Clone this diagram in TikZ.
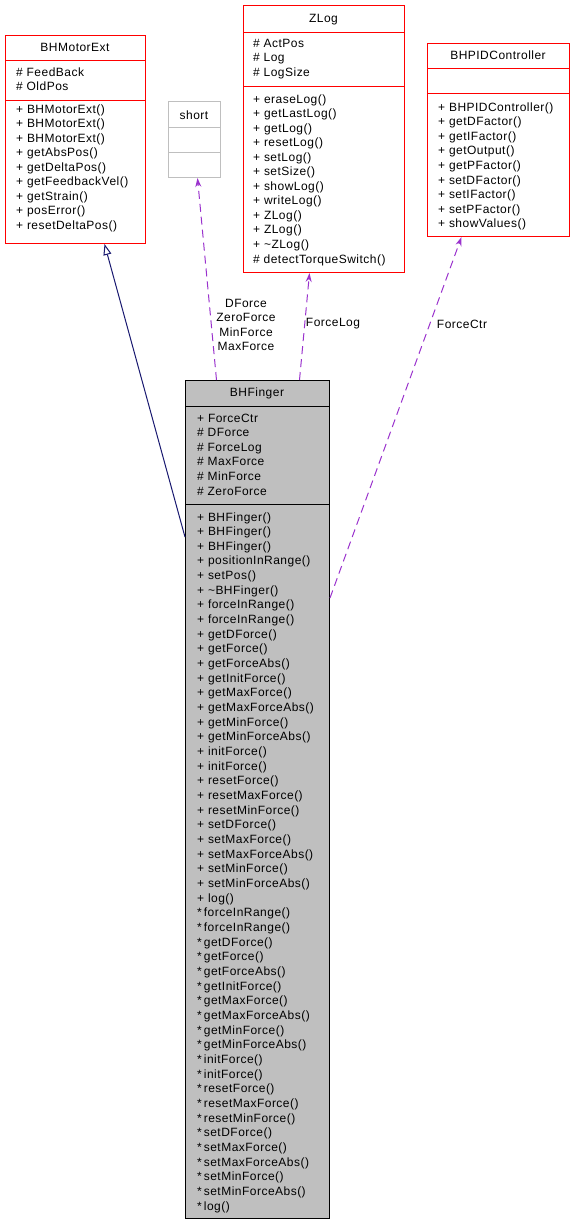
\documentclass[tikz,border=0pt]{standalone}
\usepackage{fontspec}
\setmainfont{Liberation Sans}[LetterSpace=4.0]
\usetikzlibrary{arrows.meta,calc}
\definecolor{umlred}{HTML}{FF0000}
\definecolor{umlgray}{HTML}{BFBFBF}
\definecolor{umlfill}{HTML}{BFBFBF}
\definecolor{gennavy}{HTML}{191970}
\definecolor{deppurple}{HTML}{9A32CD}
\begin{document}
\begin{tikzpicture}[x=1pt,y=-1pt,
  box/.style={draw, line width=1pt, inner sep=0pt, anchor=north west},
  txt/.style={anchor=base west, inner sep=0pt, font=\fontsize{12}{14.5}\selectfont},
  ttl/.style={anchor=base, inner sep=0pt, font=\fontsize{12}{14.5}\selectfont},
  lbl/.style={anchor=center, inner sep=0pt, align=center, font=\fontsize{12}{14.5}\selectfont},
  dep/.style={draw=deppurple, line width=1pt, dash pattern=on 8pt off 5pt, -{Stealth[length=9pt,width=6pt]}},
  gen/.style={draw=gennavy, line width=1pt, -{Triangle[open,length=11pt,width=8pt,fill=white]}}]
\useasboundingbox (0,0) rectangle (573,1224);

% BHMotorExt
\node[box, draw=umlred, minimum width=140pt, minimum height=208pt] (motor) at (5,35) {};
\draw[umlred, line width=1pt] (5,60) -- (145,60) (5,100) -- (145,100);
\node[ttl] (motort) at (75,51) {BHMotorExt};
\foreach \t [count=\i from 0] in {\# FeedBack, \# OldPos}
  \node[txt] (motora\i) at (16,76+\i*14.5) {\t};
\foreach \t [count=\i from 0] in {+ BHMotorExt(), + BHMotorExt(), + BHMotorExt(), + getAbsPos(), + getDeltaPos(), + getFeedbackVel(), + getStrain(), + posError(), + resetDeltaPos()}
  \node[txt] (motorm\i) at (16,113+\i*14.5) {\t};

% short
\node[box, draw=umlgray, minimum width=52pt, minimum height=76pt] (short) at (168,101) {};
\draw[umlgray, line width=1pt] (168,127) -- (220,127) (168,152) -- (220,152);
\node[ttl] (shortt) at (194,119) {short};

% ZLog
\node[box, draw=umlred, minimum width=161pt, minimum height=267pt] (zlog) at (243,5) {};
\draw[umlred, line width=1pt] (243,32) -- (404,32) (243,86) -- (404,86);
\node[ttl] (zlogt) at (323.5,22) {ZLog};
\foreach \t [count=\i from 0] in {\# ActPos, \# Log, \# LogSize}
  \node[txt] (zloga\i) at (253,47+\i*14.5) {\t};
\foreach \t [count=\i from 0] in {+ eraseLog(), + getLastLog(), + getLog(), + resetLog(), + setLog(), + setSize(), + showLog(), + writeLog(), + ZLog(), + ZLog(), + \textasciitilde ZLog(), \# detectTorqueSwitch()}
  \node[txt] (zlogm\i) at (253,103+\i*14.55) {\t};

% BHPIDController
\node[box, draw=umlred, minimum width=142pt, minimum height=193pt] (pid) at (427,43) {};
\draw[umlred, line width=1pt] (427,68) -- (569,68) (427,93) -- (569,93);
\node[ttl] (pidt) at (498,59) {BHPIDController};
\foreach \t [count=\i from 0] in {+ BHPIDController(), + getDFactor(), + getIFactor(), + getOutput(), + getPFactor(), + setDFactor(), + setIFactor(), + setPFactor(), + showValues()}
  \node[txt] (pidm\i) at (438,111+\i*14.6) {\t};

% BHFinger
\node[box, draw=black, fill=umlfill, minimum width=144pt, minimum height=838pt] (finger) at (185,380) {};
\draw[black, line width=1pt] (185,406) -- (329,406) (185,504) -- (329,504);
\node[ttl] (fingert) at (257,396) {BHFinger};
\foreach \t [count=\i from 0] in {+ ForceCtr, \# DForce, \# ForceLog, \# MaxForce, \# MinForce, \# ZeroForce}
  \node[txt] (fingera\i) at (197,422+\i*14.6) {\t};
\foreach \t [count=\i from 0] in {+ BHFinger(), + BHFinger(), + BHFinger(), + positionInRange(), + setPos(), + \textasciitilde BHFinger(), + forceInRange(), + forceInRange(), + getDForce(), + getForce(), + getForceAbs(), + getInitForce(), + getMaxForce(), + getMaxForceAbs(), + getMinForce(), + getMinForceAbs(), + initForce(), + initForce(), + resetForce(), + resetMaxForce(), + resetMinForce(), + setDForce(), + setMaxForce(), + setMaxForceAbs(), + setMinForce(), + setMinForceAbs(), + log(), *\,forceInRange(), *\,forceInRange(), *\,getDForce(), *\,getForce(), *\,getForceAbs(), *\,getInitForce(), *\,getMaxForce(), *\,getMaxForceAbs(), *\,getMinForce(), *\,getMinForceAbs(), *\,initForce(), *\,initForce(), *\,resetForce(), *\,resetMaxForce(), *\,resetMinForce(), *\,setDForce(), *\,setMaxForce(), *\,setMaxForceAbs(), *\,setMinForce(), *\,setMinForceAbs(), *\,log()}
  \node[txt] (fingerm\i) at (197,521+\i*14.66) {\t};

% connectors
\draw[gen] ($(finger.north west)+(0,157)$) -- ($(motor.south)+(29,0)$);
\draw[dep] ($(finger.north)+(-41,0)$) -- ($(short.south)+(3,0)$);
\draw[dep] ($(finger.north)+(42,0)$) -- ($(zlog.south)+(-14.5,0)$);
\draw[dep] ($(finger.north east)+(0,218)$) -- ($(pid.south)+(-37,0)$);

% labels
\node[lbl] (lshort) at (246,325) {DForce\\ZeroForce\\MinForce\\MaxForce};
\node[lbl] (lzlog) at (333,324) {ForceLog};
\node[lbl] (lpid) at (462,324) {ForceCtr};
\end{tikzpicture}
\end{document}
